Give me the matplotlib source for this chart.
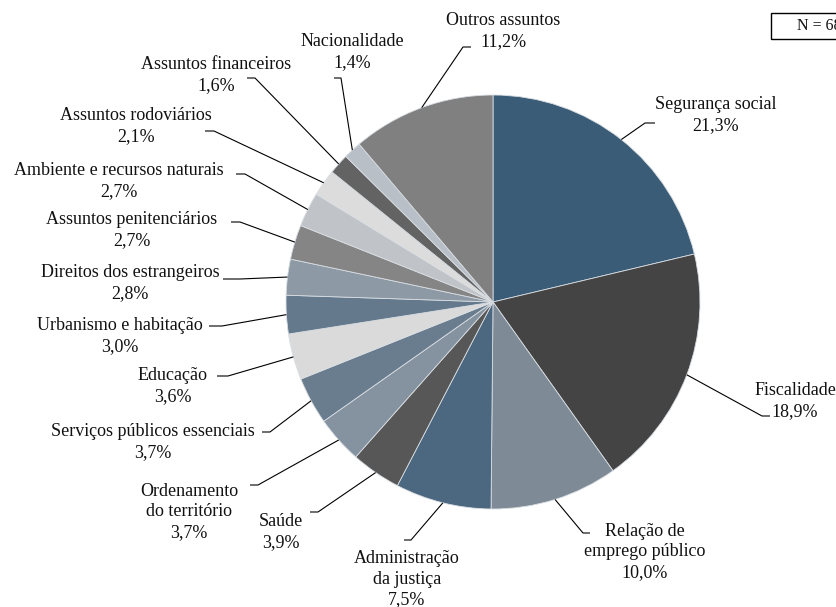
import matplotlib
matplotlib.use('Agg')
import matplotlib.pyplot as plt
from matplotlib.patches import Rectangle
import numpy as np

categories = ['Segurança social', 'Fiscalidade', 'Relação de\nemprego público',
              'Administração\nda justiça', 'Saúde', 'Ordenamento\ndo território',
              'Serviços públicos essenciais', 'Educação', 'Urbanismo e habitação',
              'Direitos dos estrangeiros', 'Assuntos penitenciários',
              'Ambiente e recursos naturais', 'Assuntos rodoviários',
              'Assuntos financeiros', 'Nacionalidade', 'Outros assuntos']
values = [21.3, 18.9, 10.0, 7.5, 3.9, 3.7, 3.7, 3.6, 3.0, 2.8, 2.7, 2.7, 2.1, 1.6, 1.4, 11.2]
colors = ['#3a5c77', '#444444', '#7e8b97', '#4c6881', '#575757', '#8592a0',
          '#6a7d8f', '#dadada', '#647a8c', '#8d99a5', '#858585', '#c0c4c9',
          '#dcdcdc', '#636363', '#b8bfc7', '#808080']
n_text = 'N = 683'

W, H = 836, 607
CX, CY, R = 493, 302, 207

# label layout in pixel coords: text centre, elbow, line end
layout = [
    ((716, 115), (645, 123), (655, 123)),
    ((795, 401), (762, 416), (770, 416)),
    ((645, 552), (583, 533), (590, 533)),
    ((407, 579), (411, 540), (404, 540)),
    ((281, 532), (318, 512), (310, 512)),
    ((189, 512), (258, 485), (250, 485)),
    ((153, 442), (270, 432), (262, 432)),
    ((173, 386), (228, 376), (217, 376)),
    ((120, 336), (222, 326), (209, 326)),
    ((130, 283), (240, 279), (223, 279)),
    ((132, 230), (240, 222), (231, 222)),
    ((119, 181), (245, 174), (236, 174)),
    ((136, 126), (214, 131), (205, 131)),
    ((216, 75), (255, 78), (247, 78)),
    ((352, 52), (341, 78), (334, 78)),
    ((503, 31), (463, 47), (471, 47)),
]

plt.rcParams['font.family'] = ['Liberation Serif', 'DejaVu Serif']

fig = plt.figure(figsize=(W / 100, H / 100), dpi=100)
ax = fig.add_axes([0, 0, 1, 1])

wedges, _ = ax.pie(values, colors=colors, startangle=90, counterclock=False,
                   center=(CX, H - CY), radius=R, frame=True,
                   wedgeprops=dict(linewidth=0.6, edgecolor='#d8dde2'))
ax.set_xlim(0, W)
ax.set_ylim(0, H)
ax.set_aspect('equal')
ax.axis('off')

for w, cat, val, (tpos, elb, end) in zip(wedges, categories, values, layout):
    mid = np.deg2rad((w.theta1 + w.theta2) / 2)
    px = CX + R * np.cos(mid)
    py = (H - CY) + R * np.sin(mid)
    ax.plot([px, elb[0], end[0]], [py, H - elb[1], H - end[1]],
            color='black', lw=0.8, solid_capstyle='butt')
    label = f"{cat}\n{val:.1f}%".replace('.', ',')
    ax.text(tpos[0], H - tpos[1], label, ha='center', va='center',
            multialignment='center', fontsize=13, linespacing=1.25, color='#111111')

ax.add_patch(Rectangle((771, H - 39), 120, 26, fill=False, edgecolor='black',
                       lw=1.0, clip_on=False))
ax.text(797, H - 26, n_text, ha='left', va='center', fontsize=11.5, color='#111111')

fig.savefig('out.png', dpi=100)
